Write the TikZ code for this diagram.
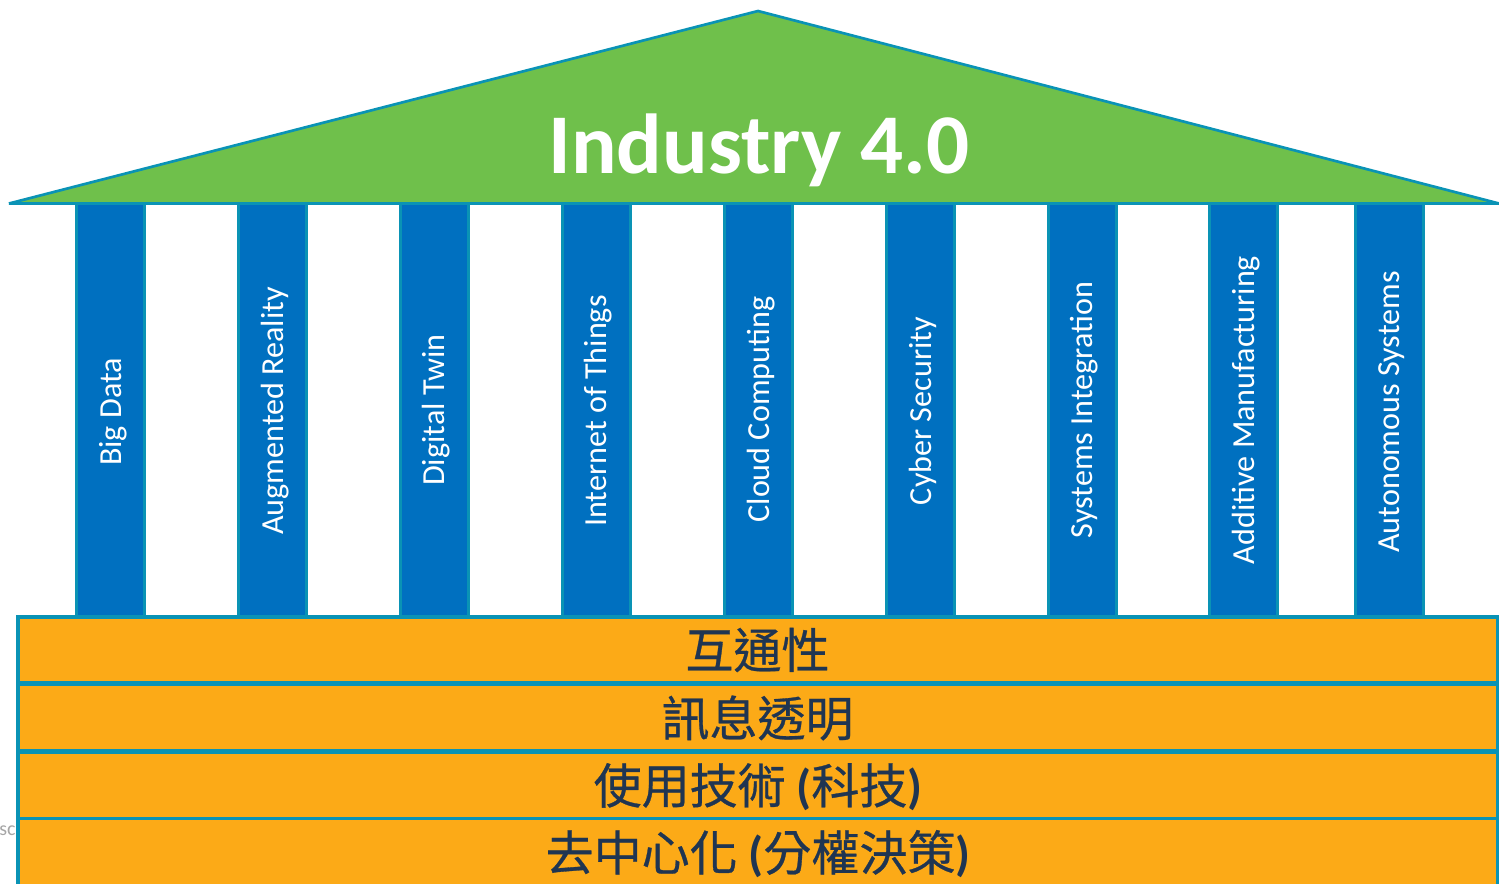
\documentclass[tikz,border=0pt]{standalone}
\usepackage{fontspec}
\setmainfont{Carlito}
\newfontfamily\cjk[FakeBold=0.6]{Noto Sans CJK TC}
\usetikzlibrary{shapes.geometric}
\definecolor{edgeblue}{HTML}{0A93B5}
\definecolor{pillarblue}{HTML}{0070C0}
\definecolor{roofgreen}{HTML}{6FC04B}
\definecolor{baseorange}{HTML}{FCAA17}
\definecolor{basetext}{HTML}{1F3552}
\newcommand{\parenfont}{\rmfamily\bfseries\fontsize{36pt}{38pt}\selectfont}
\tikzset{
  x=0.75pt,y=-0.75pt,
  pillar/.style={draw=edgeblue,line width=2.25pt,fill=pillarblue,inner sep=0pt,minimum width=51pt,minimum height=310pt},
  pillartext/.style={text=white,rotate=90,font=\fontsize{24.1pt}{26pt}\selectfont,inner sep=0pt},
  band/.style={draw=edgeblue,line width=2.6pt,fill=baseorange,inner sep=0pt,minimum width=1110pt,minimum height=49.5pt},
  bandtext/.style={text=basetext,inner sep=0pt,font=\fontsize{36pt}{38pt}\selectfont\cjk},
}
\begin{document}
\begin{tikzpicture}
\useasboundingbox (0,0) rectangle (1499,884);
\clip (0,0) rectangle (1499,884);
% pillars
\foreach \n/\x/\t/\tx/\ty in {
 a/110/Big Data/113.5/412,
 b/272/Augmented Reality/275.5/411,
 c/434/Digital Twin/436.5/410,
 d/596/Internet of Things/598.5/411,
 e/758/Cloud Computing/761.5/409.5,
 f/920/Cyber Security/922.5/411,
 g/1082/Systems Integration/1084.5/410,
 h/1243/Additive Manufacturing/1246.5/410,
 i/1389/Autonomous Systems/1391.5/412}{
  \node[pillar] (p\n) at (\x,410) {};
  \node[pillartext] (t\n) at (\tx,\ty) {\t};
}
% roof
\coordinate (rl) at (9,203.5);
\coordinate (rt) at (758,11);
\coordinate (rr) at (1499,203.5);
\draw[edgeblue,line width=2pt,fill=roofgreen,line join=bevel] (rl) -- (rt) -- (rr) -- cycle;
\node[text=white,inner sep=0pt,font=\fontsize{63.8pt}{66pt}\selectfont\bfseries] (title) at (759,150) {Industry 4.0};
% stray text
\node[text=gray!70,inner sep=0pt,anchor=west,font=\fontsize{15pt}{16pt}\selectfont] (stray) at (-1,831) {sco};
% bands
\node[band] (b1) at (758,650) {};
\node[band] (b2) at (758,717.5) {};
\node[band] (b3) at (758,785.5) {};
\node[band,minimum height=70pt] (b4) at (758,865) {};
\node[bandtext] (l1) at (757.5,650) {互通性};
\node[bandtext] (l2) at (757.5,718) {訊息透明};
\node[bandtext] (l3) at (758,787) {使用技術 {\parenfont(}科技{\parenfont)}};
\node[bandtext] (l4) at (758,854) {去中心化 {\parenfont(}分權決策{\parenfont)}};
\end{tikzpicture}
\end{document}
